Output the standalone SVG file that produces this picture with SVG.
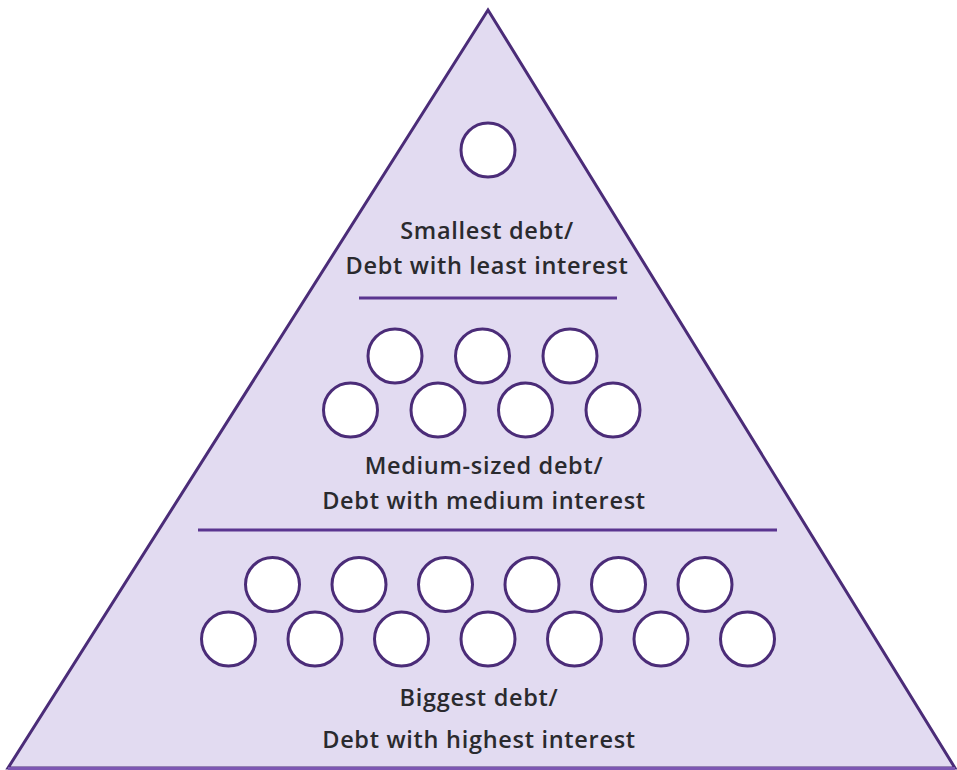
<svg xmlns="http://www.w3.org/2000/svg" width="957" height="770" viewBox="0 0 957 770">
  <style>
    .tri { fill: #e2dbf1; stroke: #4b2c78; stroke-width: 3; stroke-linejoin: miter; }
    .divider { stroke: #5a3590; stroke-width: 3; fill: none; }
    .coin { fill: #ffffff; stroke: #4b2c78; stroke-width: 3; }
    .label { font-family: "Open Sans", "Liberation Sans", sans-serif; font-size: 23.5px; font-weight: 600; letter-spacing: 0.7px; fill: #2a2a2e; text-anchor: middle; }
  </style>
  <rect width="957" height="770" fill="#ffffff"/>

  <!-- pyramid body -->
  <g id="pyramid">
    <polygon class="tri" points="488,10 8,768 955,768"/>
    <line x1="8" y1="768.5" x2="955" y2="768.5" stroke="#7d57b3" stroke-width="3"/>
  </g>

  <!-- tier dividers -->
  <g id="dividers">
    <line class="divider" x1="359" y1="298" x2="617" y2="298"/>
    <line class="divider" x1="198" y1="530" x2="777" y2="530"/>
  </g>

  <!-- top tier -->
  <g id="tier-top">
    <circle class="coin" cx="488" cy="150" r="27"/>
    <text class="label" x="487" y="239">Smallest debt/</text>
    <text class="label" x="487" y="274">Debt with least interest</text>
  </g>

  <!-- middle tier -->
  <g id="tier-middle">
    <circle class="coin" cx="395" cy="356" r="27"/>
    <circle class="coin" cx="482.5" cy="356" r="27"/>
    <circle class="coin" cx="570" cy="356" r="27"/>
    <circle class="coin" cx="350.5" cy="410" r="27"/>
    <circle class="coin" cx="438" cy="410" r="27"/>
    <circle class="coin" cx="525.5" cy="410" r="27"/>
    <circle class="coin" cx="613" cy="410" r="27"/>
    <text class="label" x="484" y="474">Medium-sized debt/</text>
    <text class="label" x="484" y="509">Debt with medium interest</text>
  </g>

  <!-- bottom tier -->
  <g id="tier-bottom">
    <circle class="coin" cx="272.5" cy="584.5" r="27"/>
    <circle class="coin" cx="359" cy="584.5" r="27"/>
    <circle class="coin" cx="445.5" cy="584.5" r="27"/>
    <circle class="coin" cx="532" cy="584.5" r="27"/>
    <circle class="coin" cx="618.5" cy="584.5" r="27"/>
    <circle class="coin" cx="705" cy="584.5" r="27"/>
    <circle class="coin" cx="228.5" cy="639" r="27"/>
    <circle class="coin" cx="315" cy="639" r="27"/>
    <circle class="coin" cx="401.5" cy="639" r="27"/>
    <circle class="coin" cx="488" cy="639" r="27"/>
    <circle class="coin" cx="574.5" cy="639" r="27"/>
    <circle class="coin" cx="661" cy="639" r="27"/>
    <circle class="coin" cx="747.5" cy="639" r="27"/>
    <text class="label" x="479" y="706">Biggest debt/</text>
    <text class="label" x="479" y="748">Debt with highest interest</text>
  </g>
</svg>
